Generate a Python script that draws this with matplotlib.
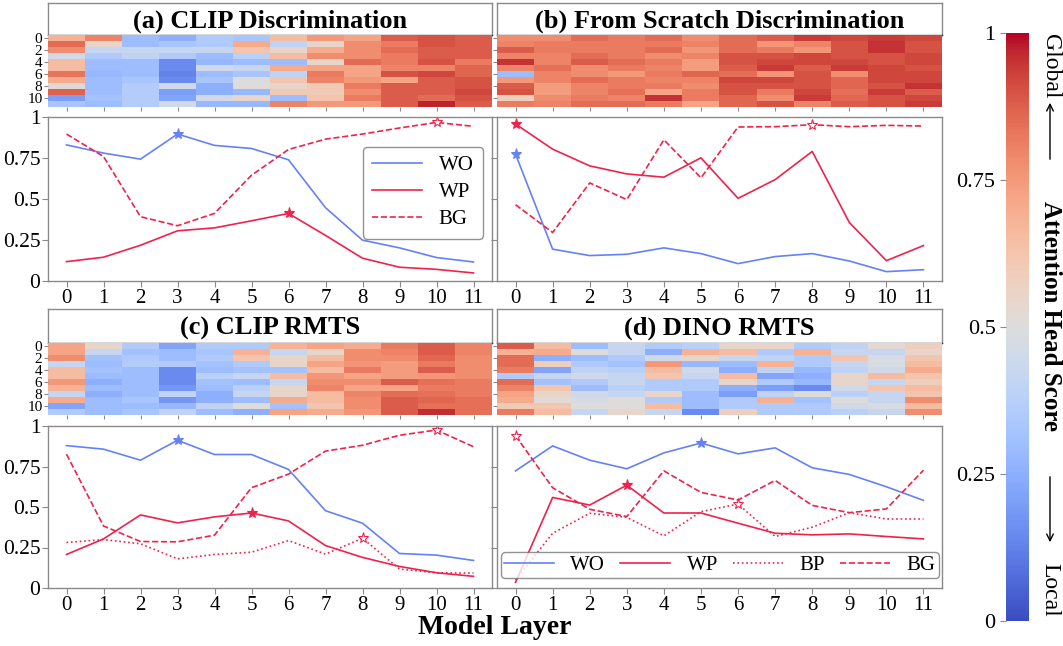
import numpy as np
import matplotlib
matplotlib.use('Agg')
import matplotlib.pyplot as plt
from matplotlib.cm import ScalarMappable
from matplotlib.colors import Normalize
from matplotlib.patches import FancyArrowPatch

plt.rcParams['font.family'] = ['Liberation Serif', 'DejaVu Serif']

W, H = 1063, 646

layers = list(range(12))
head_ticks = [0, 2, 4, 6, 8, 10]
score_ticks = [0, 0.25, 0.5, 0.75, 1]
score_labels = ['0', '0.25', '0.5', '0.75', '1']

titles = ['(a) CLIP Discrimination', '(b) From Scratch Discrimination',
          '(c) CLIP RMTS', '(d) DINO RMTS']

# Attention head scores: one list per layer, 12 heads each
clip_disc_heads = [
    [0.68, 0.85, 0.78, 0.45, 0.65, 0.65, 0.83, 0.70, 0.52, 0.87, 0.20, 0.33],
    [0.80, 0.55, 0.42, 0.35, 0.30, 0.30, 0.28, 0.30, 0.30, 0.30, 0.32, 0.30],
    [0.30, 0.30, 0.42, 0.40, 0.30, 0.30, 0.30, 0.33, 0.36, 0.36, 0.36, 0.36],
    [0.25, 0.33, 0.42, 0.35, 0.15, 0.15, 0.13, 0.15, 0.45, 0.20, 0.22, 0.45],
    [0.35, 0.35, 0.42, 0.30, 0.28, 0.45, 0.30, 0.33, 0.25, 0.25, 0.45, 0.28],
    [0.33, 0.70, 0.62, 0.38, 0.30, 0.42, 0.33, 0.50, 0.50, 0.28, 0.55, 0.28],
    [0.65, 0.40, 0.55, 0.65, 0.30, 0.70, 0.40, 0.62, 0.55, 0.60, 0.30, 0.80],
    [0.75, 0.55, 0.70, 0.78, 0.55, 0.72, 0.82, 0.80, 0.60, 0.60, 0.62, 0.75],
    [0.72, 0.78, 0.78, 0.78, 0.85, 0.72, 0.72, 0.75, 0.82, 0.78, 0.82, 0.75],
    [0.88, 0.82, 0.85, 0.82, 0.82, 0.80, 0.90, 0.72, 0.88, 0.88, 0.88, 0.88],
    [0.90, 0.90, 0.88, 0.88, 0.90, 0.80, 0.92, 0.88, 0.88, 0.88, 0.85, 0.97],
    [0.88, 0.88, 0.88, 0.88, 0.82, 0.86, 0.86, 0.90, 0.90, 0.92, 0.90, 0.88],
]
scratch_disc_heads = [
    [0.78, 0.80, 0.88, 0.80, 0.95, 0.80, 0.30, 0.75, 0.88, 0.90, 0.58, 0.82],
    [0.78, 0.82, 0.82, 0.80, 0.80, 0.84, 0.80, 0.80, 0.74, 0.74, 0.78, 0.80],
    [0.85, 0.82, 0.82, 0.85, 0.88, 0.78, 0.78, 0.85, 0.80, 0.80, 0.82, 0.85],
    [0.82, 0.82, 0.82, 0.82, 0.85, 0.82, 0.75, 0.82, 0.82, 0.84, 0.80, 0.85],
    [0.85, 0.82, 0.85, 0.78, 0.82, 0.80, 0.82, 0.80, 0.82, 0.72, 0.95, 0.82],
    [0.78, 0.80, 0.76, 0.80, 0.74, 0.74, 0.86, 0.80, 0.78, 0.82, 0.82, 0.72],
    [0.85, 0.85, 0.85, 0.90, 0.90, 0.88, 0.84, 0.92, 0.90, 0.90, 0.86, 0.86],
    [0.88, 0.76, 0.82, 0.90, 0.92, 0.94, 0.76, 0.92, 0.90, 0.82, 0.78, 0.90],
    [0.94, 0.80, 0.76, 0.92, 0.92, 0.88, 0.90, 0.90, 0.90, 0.92, 0.94, 0.80],
    [0.92, 0.90, 0.90, 0.90, 0.92, 0.94, 0.78, 0.86, 0.86, 0.84, 0.86, 0.88],
    [0.94, 0.95, 0.95, 0.90, 0.90, 0.92, 0.92, 0.92, 0.90, 0.94, 0.90, 0.90],
    [0.92, 0.90, 0.90, 0.92, 0.92, 0.90, 0.92, 0.92, 0.95, 0.88, 0.92, 0.94],
]
clip_rmts_heads = [
    [0.72, 0.72, 0.78, 0.42, 0.65, 0.65, 0.75, 0.68, 0.42, 0.70, 0.22, 0.35],
    [0.55, 0.42, 0.32, 0.30, 0.32, 0.30, 0.25, 0.30, 0.25, 0.30, 0.30, 0.30],
    [0.35, 0.32, 0.35, 0.36, 0.30, 0.30, 0.30, 0.30, 0.30, 0.33, 0.30, 0.33],
    [0.22, 0.30, 0.30, 0.35, 0.15, 0.15, 0.15, 0.18, 0.40, 0.18, 0.28, 0.40],
    [0.35, 0.33, 0.35, 0.32, 0.30, 0.38, 0.32, 0.30, 0.25, 0.25, 0.40, 0.30],
    [0.35, 0.68, 0.62, 0.35, 0.32, 0.42, 0.30, 0.38, 0.42, 0.30, 0.50, 0.25],
    [0.68, 0.42, 0.55, 0.55, 0.32, 0.65, 0.42, 0.55, 0.55, 0.70, 0.32, 0.72],
    [0.72, 0.55, 0.65, 0.72, 0.65, 0.76, 0.78, 0.80, 0.65, 0.65, 0.62, 0.70],
    [0.70, 0.78, 0.78, 0.76, 0.82, 0.72, 0.78, 0.72, 0.80, 0.78, 0.78, 0.76],
    [0.82, 0.80, 0.78, 0.74, 0.74, 0.74, 0.88, 0.72, 0.85, 0.88, 0.88, 0.88],
    [0.88, 0.88, 0.86, 0.82, 0.88, 0.76, 0.84, 0.82, 0.84, 0.86, 0.84, 0.96],
    [0.80, 0.80, 0.78, 0.78, 0.78, 0.78, 0.82, 0.82, 0.82, 0.84, 0.84, 0.84],
]
dino_rmts_heads = [
    [0.88, 0.68, 0.85, 0.85, 0.82, 0.35, 0.85, 0.80, 0.72, 0.70, 0.60, 0.82],
    [0.65, 0.70, 0.25, 0.58, 0.22, 0.42, 0.32, 0.62, 0.55, 0.52, 0.62, 0.65],
    [0.30, 0.50, 0.30, 0.35, 0.40, 0.45, 0.35, 0.30, 0.45, 0.47, 0.50, 0.42],
    [0.42, 0.42, 0.35, 0.32, 0.38, 0.42, 0.42, 0.38, 0.42, 0.50, 0.50, 0.55],
    [0.35, 0.25, 0.45, 0.75, 0.65, 0.62, 0.35, 0.35, 0.55, 0.35, 0.65, 0.42],
    [0.38, 0.68, 0.55, 0.28, 0.45, 0.42, 0.35, 0.35, 0.30, 0.30, 0.30, 0.15],
    [0.55, 0.65, 0.42, 0.30, 0.25, 0.65, 0.55, 0.25, 0.20, 0.35, 0.35, 0.58],
    [0.55, 0.35, 0.40, 0.68, 0.40, 0.22, 0.35, 0.20, 0.40, 0.68, 0.35, 0.35],
    [0.35, 0.68, 0.35, 0.35, 0.28, 0.25, 0.28, 0.15, 0.50, 0.32, 0.35, 0.35],
    [0.40, 0.42, 0.62, 0.42, 0.40, 0.55, 0.55, 0.45, 0.38, 0.50, 0.45, 0.38],
    [0.52, 0.42, 0.48, 0.48, 0.45, 0.65, 0.42, 0.62, 0.42, 0.42, 0.48, 0.42],
    [0.58, 0.55, 0.62, 0.65, 0.70, 0.62, 0.58, 0.65, 0.62, 0.78, 0.65, 0.78],
]

# Per-layer scores for each region
clip_disc_wo = [0.83, 0.78, 0.743, 0.896, 0.827, 0.808, 0.739, 0.447, 0.249, 0.202, 0.143, 0.116]
clip_disc_wp = [0.118, 0.145, 0.218, 0.306, 0.324, 0.367, 0.412, 0.278, 0.139, 0.084, 0.071, 0.049]
clip_disc_bg = [0.896, 0.759, 0.392, 0.337, 0.412, 0.645, 0.802, 0.865, 0.896, 0.933, 0.967, 0.943]

scratch_disc_wo = [0.773, 0.194, 0.155, 0.163, 0.202, 0.167, 0.106, 0.149, 0.167, 0.122, 0.057, 0.069]
scratch_disc_wp = [0.957, 0.804, 0.702, 0.653, 0.633, 0.751, 0.504, 0.618, 0.790, 0.357, 0.124, 0.216]
scratch_disc_bg = [0.465, 0.296, 0.598, 0.496, 0.861, 0.629, 0.939, 0.941, 0.953, 0.941, 0.949, 0.945]

clip_rmts_wo = [0.879, 0.857, 0.789, 0.912, 0.824, 0.824, 0.732, 0.477, 0.40, 0.213, 0.203, 0.170]
clip_rmts_wp = [0.207, 0.303, 0.451, 0.402, 0.439, 0.463, 0.414, 0.262, 0.189, 0.133, 0.094, 0.072]
clip_rmts_bp = [0.281, 0.299, 0.273, 0.180, 0.207, 0.221, 0.293, 0.209, 0.307, 0.117, 0.094, 0.092]
clip_rmts_bg = [0.826, 0.383, 0.287, 0.285, 0.326, 0.619, 0.703, 0.845, 0.881, 0.943, 0.975, 0.872]

dino_rmts_wo = [0.723, 0.877, 0.789, 0.736, 0.834, 0.895, 0.828, 0.865, 0.742, 0.701, 0.625, 0.541]
dino_rmts_wp = [0.035, 0.559, 0.512, 0.635, 0.463, 0.463, 0.40, 0.338, 0.328, 0.334, 0.318, 0.303]
dino_rmts_bp = [0.05, 0.338, 0.461, 0.436, 0.322, 0.471, 0.518, 0.318, 0.375, 0.465, 0.426, 0.426]
dino_rmts_bg = [0.94, 0.619, 0.486, 0.441, 0.723, 0.59, 0.543, 0.664, 0.51, 0.465, 0.488, 0.727]

BLUE = '#6482f5'
RED = '#f0224c'
FRAME = '#8a8a8a'
line_style = {'WO': (BLUE, '-'), 'WP': (RED, '-'), 'BP': (RED, ':'), 'BG': (RED, '--')}


def px_axes(fig, left, top, right, bottom):
    # place an axes using pixel edges measured from the top-left corner
    return fig.add_axes([left / W, 1 - bottom / H, (right - left) / W, (bottom - top) / H])


def style_frame(ax):
    for sp in ax.spines.values():
        sp.set_color(FRAME)
        sp.set_linewidth(1.0)
    ax.tick_params(colors=FRAME, labelcolor='black')


def draw_title(fig, box, text):
    ax = px_axes(fig, *box)
    ax.set_xticks([])
    ax.set_yticks([])
    style_frame(ax)
    ax.spines['bottom'].set_color('#333333')
    ax.text(0.5, 0.42, text, ha='center', va='center', fontsize=19,
            fontweight='bold', transform=ax.transAxes)


def draw_heads(fig, box, heads, show_labels):
    ax = px_axes(fig, *box)
    data = np.array(heads).T
    ax.imshow(data, cmap='coolwarm', vmin=0, vmax=1, aspect='auto', interpolation='nearest')
    ax.set_xticks(layers)
    ax.set_xticklabels([])
    ax.set_yticks(head_ticks)
    if show_labels:
        ax.set_yticklabels([str(t) for t in head_ticks], fontsize=11)
    else:
        ax.set_yticklabels([])
    style_frame(ax)
    ax.tick_params(length=3, pad=1)
    for sp in ax.spines.values():
        sp.set_visible(False)
    return ax


def draw_lines(fig, box, series, show_labels, legend=None):
    ax = px_axes(fig, *box)
    for name, vals in series:
        color, ls = line_style[name]
        ax.plot(layers, vals, color=color, linestyle=ls, linewidth=1.2, label=name)
        # star on the peak layer; hollow for the background-type regions
        k = int(np.argmax(vals))
        face = color if ls == '-' else 'white'
        ax.plot(layers[k], vals[k], marker='*', markersize=8, color=color,
                markerfacecolor=face, markeredgewidth=0.8, linestyle='none')
    ax.set_xlim(-0.5, 11.5)
    ax.set_ylim(0, 1)
    ax.set_xticks(layers)
    ax.set_xticklabels([str(l) for l in layers], fontsize=15)
    ax.set_yticks(score_ticks)
    if show_labels:
        ax.set_yticklabels(score_labels, fontsize=15.5)
    else:
        ax.set_yticklabels([])
    style_frame(ax)
    ax.tick_params(pad=1.5, length=4)

    if legend == 'side':
        leg = ax.legend(loc='upper right', bbox_to_anchor=(0.98, 0.82), fontsize=15,
                        handlelength=2.4, borderpad=0.45, labelspacing=0.35,
                        borderaxespad=0)
        leg.get_frame().set_edgecolor('#777777')
    elif legend == 'bottom':
        leg = ax.legend(loc='lower left', bbox_to_anchor=(0.008, 0.06, 0.985, 0.19),
                        mode='expand', ncol=4, fontsize=15, handlelength=2.4,
                        borderpad=0.15, borderaxespad=0)
        leg.get_frame().set_edgecolor('#777777')
    return ax


fig = plt.figure(figsize=(W / 100, H / 100), dpi=100)

cols = [(48, 492), (497, 942)]
rows = [(3, 35, 107, 117, 281), (309, 343, 415, 426, 588)]

panels = [
    (0, 0, titles[0], clip_disc_heads,
     [('WO', clip_disc_wo), ('WP', clip_disc_wp), ('BG', clip_disc_bg)], 'side'),
    (0, 1, titles[1], scratch_disc_heads,
     [('WO', scratch_disc_wo), ('WP', scratch_disc_wp), ('BG', scratch_disc_bg)], None),
    (1, 0, titles[2], clip_rmts_heads,
     [('WO', clip_rmts_wo), ('WP', clip_rmts_wp), ('BP', clip_rmts_bp), ('BG', clip_rmts_bg)], None),
    (1, 1, titles[3], dino_rmts_heads,
     [('WO', dino_rmts_wo), ('WP', dino_rmts_wp), ('BP', dino_rmts_bp), ('BG', dino_rmts_bg)], 'bottom'),
]

for r, c, title, heads, series, legend in panels:
    x0, x1 = cols[c]
    t0, t1, h1, l0, l1 = rows[r]
    draw_title(fig, (x0, t0, x1, t1), title)
    draw_heads(fig, (x0, t1, x1, h1), heads, show_labels=(c == 0))
    draw_lines(fig, (x0, l0, x1, l1), series, show_labels=(c == 0), legend=legend)

fig.text(495 / W, 1 - 634 / H, 'Model Layer', ha='center', va='baseline',
         fontsize=20, fontweight='bold')

# shared colour scale for the head scores
cax = px_axes(fig, 1006, 33, 1029, 621)
cb = fig.colorbar(ScalarMappable(norm=Normalize(0, 1), cmap='coolwarm'), cax=cax)
cb.outline.set_visible(False)
cax.yaxis.set_ticks_position('left')
cb.set_ticks(score_ticks)
cb.set_ticklabels(score_labels)
cax.tick_params(labelsize=16, colors=FRAME, labelcolor='black', length=4)

# side label: Global (top) <-- Attention Head Score --> Local (bottom)
lx = 1050 / W
fig.text(lx, 1 - 66 / H, 'Global', rotation=-90, ha='center', va='center', fontsize=17)
fig.text(lx, 1 - 316 / H, 'Attention Head Score', rotation=-90, ha='center', va='center',
         fontsize=18, fontweight='bold')
fig.text(lx, 1 - 590 / H, 'Local', rotation=-90, ha='center', va='center', fontsize=17)
for tail, head in [(162, 100), (474, 545)]:
    fig.add_artist(FancyArrowPatch((lx, 1 - tail / H), (lx, 1 - head / H),
                                   transform=fig.transFigure, arrowstyle='->',
                                   mutation_scale=12, color='black', lw=1.0))

fig.savefig('out.png', dpi=100)
